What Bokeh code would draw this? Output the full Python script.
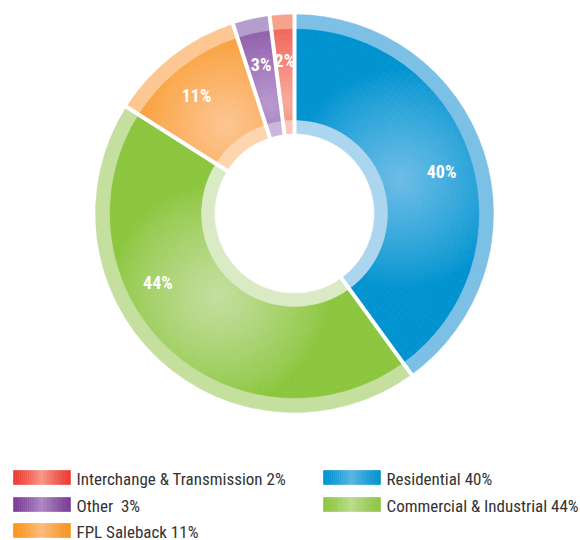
import numpy as np
from bokeh.plotting import figure
from bokeh.models import Range1d
from bokeh.embed import file_html
from bokeh.resources import INLINE
from bokeh.core.properties import value

# ---------------- data ----------------
categories = ["Residential", "Commercial & Industrial", "FPL Saleback", "Other", "Interchange & Transmission"]
shares = [40, 44, 11, 3, 2]
slice_labels = ["40%", "44%", "11%", "3%", "2%"]
legend_labels = ["Residential 40%", "Commercial & Industrial 44%", "FPL Saleback 11%",
                 "Other\u00a0\u00a03%", "Interchange & Transmission 2%"]

# ---------------- style ----------------
edge_colors = ["#0093d0", "#8cc63f", "#f7941d", "#7a3c96", "#ee3a33"]
light_colors = ["#6cbde6", "#c4df9f", "#fdc592", "#b898cf", "#f8aa9a"]
rim_colors = ["#7cc0e6", "#c4df9e", "#fcc793", "#b59ece", "#f6a38e"]
inner_colors = ["#acd5ef", "#d9eac5", "#fdd6b0", "#cab8dc", "#fbc6b8"]
label_angle_offset = [2, 20, -2, 0, 0]
legend_order = [4, 3, 2, 0, 1]          # left column then right column
legend_col_x = [13, 323]
legend_row_y = [477, 504, 530]
FONT = value("Roboto Condensed, DejaVu Sans Condensed, Liberation Sans Narrow, Arial Narrow, sans-serif")

W, H = 580, 540


def Y(py):
    return H - py


CX, CY = 294, Y(213)
R_HOLE, R_IN, R_MAIN, R_OUT = 80, 93, 185, 199


def hex2rgb(h):
    h = h.lstrip("#")
    return np.array([int(h[i:i + 2], 16) for i in (0, 2, 4)], dtype=float)


def mix(c1, c2, f):
    a, b = hex2rgb(c1), hex2rgb(c2)
    c = a + (b - a) * f
    return "#%02x%02x%02x" % tuple(int(round(v)) for v in c)


p = figure(width=W, height=H, x_range=Range1d(0, W), y_range=Range1d(0, H),
           output_backend="svg", toolbar_location=None, min_border=0)
p.axis.visible = False
p.xgrid.visible = False
p.ygrid.visible = False
p.outline_line_color = None
p.background_fill_color = "white"
p.border_fill_color = "white"

total = float(sum(shares))
bounds = np.concatenate([[0], np.cumsum(shares) / total * 360.0])  # clockwise from top


def pos(r, cw_deg):
    t = np.radians(cw_deg)
    return CX + r * np.sin(t), CY + r * np.cos(t)


# main body cells (gradient simulation)
xs, ys, irs, ors, sas, eas, cols = [], [], [], [], [], [], []
for i in range(len(shares)):
    a0, a1 = bounds[i], bounds[i + 1]
    span = a1 - a0
    na = max(2, int(round(span / 2.0)))
    aedges = np.linspace(a0, a1, na + 1)
    redges = np.linspace(R_IN, R_MAIN, 17)
    mid = (a0 + a1) / 2.0
    hx, hy = pos(112, mid)
    for j in range(na):
        for k in range(len(redges) - 1):
            ac = (aedges[j] + aedges[j + 1]) / 2
            rc = (redges[k] + redges[k + 1]) / 2
            px, py = pos(rc, ac)
            d = np.hypot(px - hx, py - hy)
            f = max(0.0, 1.0 - d / 110.0)
            f = f ** 0.85
            xs.append(CX)
            ys.append(CY)
            irs.append(redges[k])
            ors.append(redges[k + 1])
            sas.append(np.radians(90 - aedges[j + 1]))
            eas.append(np.radians(90 - aedges[j]))
            cols.append(mix(edge_colors[i], light_colors[i], f))

p.annular_wedge(x=xs, y=ys, inner_radius=irs, outer_radius=ors,
                start_angle=sas, end_angle=eas, fill_color=cols,
                line_color=cols, line_width=0.8)

# outer rim and inner ring
for i in range(len(shares)):
    sa = np.radians(90 - bounds[i + 1])
    ea = np.radians(90 - bounds[i])
    p.annular_wedge(x=CX, y=CY, inner_radius=R_MAIN, outer_radius=R_OUT,
                    start_angle=sa, end_angle=ea, fill_color=rim_colors[i],
                    line_color=rim_colors[i], line_width=0.5)
    p.annular_wedge(x=CX, y=CY, inner_radius=R_HOLE, outer_radius=R_IN,
                    start_angle=sa, end_angle=ea, fill_color=inner_colors[i],
                    line_color=inner_colors[i], line_width=0.5)

# white separators
x0s, y0s, x1s, y1s = [], [], [], []
for b in bounds[:-1]:
    a, bb = pos(R_HOLE - 2, b)
    c, d = pos(R_OUT + 3, b)
    x0s.append(a); y0s.append(bb); x1s.append(c); y1s.append(d)
p.segment(x0=x0s, y0=y0s, x1=x1s, y1=y1s, line_color="white", line_width=4)

# slice labels
lx, ly = [], []
for i in range(len(shares)):
    mid = (bounds[i] + bounds[i + 1]) / 2 + label_angle_offset[i]
    a, b = pos(153, mid)
    lx.append(a); ly.append(b)
p.text(x=lx, y=ly, text=slice_labels, text_color="white",
       text_font=FONT, text_font_style="bold",
       text_font_size="18px", text_align="center", text_baseline="middle")

# legend
SW, SH = 57, 14
qx0, qx1, qy0, qy1, qc = [], [], [], [], []
tx, ty, tt = [], [], []
nstrip = 29
for n, idx in enumerate(legend_order):
    col = 0 if n < 3 else 1
    row = n if n < 3 else n - 3
    x0 = legend_col_x[col]
    yc = legend_row_y[row]
    edges = np.linspace(x0, x0 + SW, nstrip + 1)
    for s in range(nstrip):
        xm = (edges[s] + edges[s + 1]) / 2
        f = 1 - abs(xm - (x0 + SW / 2)) / (SW / 2)
        c = mix(edge_colors[idx], light_colors[idx], 0.85 * f ** 1.3)
        qx0.append(edges[s]); qx1.append(edges[s + 1])
        qy0.append(Y(yc + SH / 2)); qy1.append(Y(yc - SH / 2))
        qc.append(c)
    tx.append(x0 + SW + 6)
    ty.append(Y(yc + 1))
    tt.append(legend_labels[idx])

p.quad(left=qx0, right=qx1, bottom=qy0, top=qy1, fill_color=qc,
       line_color=qc, line_width=0.6)
p.text(x=tx, y=ty, text=tt, text_color="#333333",
       text_font=FONT, text_font_size="17px",
       text_align="left", text_baseline="middle")

open("out.html", "w").write(file_html(p, INLINE))
